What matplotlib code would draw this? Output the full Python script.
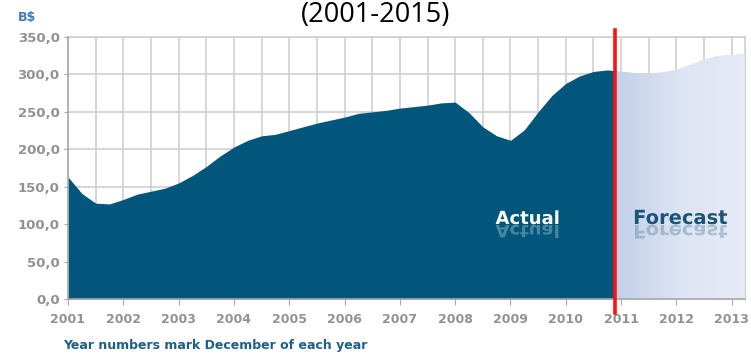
import matplotlib.pyplot as plt
import numpy as np
from matplotlib.colors import LinearSegmentedColormap
from matplotlib.font_manager import FontProperties
from matplotlib.patches import PathPatch
from matplotlib.textpath import TextPath
from matplotlib.transforms import Affine2D

# market size, B$ (quarterly points)
actual_t = [2001.0, 2001.25, 2001.5, 2001.75, 2002.0, 2002.25, 2002.5, 2002.75,
            2003.0, 2003.25, 2003.5, 2003.75, 2004.0, 2004.25, 2004.5, 2004.75,
            2005.0, 2005.25, 2005.5, 2005.75, 2006.0, 2006.25, 2006.5, 2006.75,
            2007.0, 2007.25, 2007.5, 2007.75, 2008.0, 2008.25, 2008.5, 2008.75,
            2009.0, 2009.25, 2009.5, 2009.75, 2010.0, 2010.25, 2010.5, 2010.75,
            2010.89]
actual_v = [163, 141, 128, 127, 133, 140, 144, 148,
            155, 165, 177, 191, 203, 212, 218, 220,
            225, 230, 235, 239, 243, 248, 250, 252,
            255, 257, 259, 262, 263, 249, 230, 218,
            212, 226, 250, 272, 288, 298, 304, 306,
            305]

forecast_t = [2010.89, 2011.0, 2011.25, 2011.5, 2011.75, 2012.0, 2012.25,
              2012.5, 2012.75, 2013.0, 2013.25]
forecast_v = [305, 303.5, 302, 301, 303, 306, 313, 320, 325, 326, 328]

split_year = 2010.89
year_ticks = list(range(2001, 2014))
value_ticks = [0, 50, 100, 150, 200, 250, 300, 350]
value_labels = ["0,0", "50,0", "100,0", "150,0", "200,0", "250,0", "300,0", "350,0"]

dark_blue = "#02567b"
grid_col = "#cfcfcf"
tick_col = "#929292"

fig = plt.figure(figsize=(7.51, 3.54), dpi=100)
ax = fig.add_axes([68 / 751, 1 - 299 / 354, (745 - 68) / 751, (299 - 37) / 354])

ax.set_xlim(2001, 2013.24)
ax.set_ylim(0, 350)

# gridlines: every half year, every 50
ax.set_xticks(year_ticks)
ax.set_xticks([y + 0.5 for y in year_ticks], minor=True)
ax.set_yticks(value_ticks)
ax.set_yticklabels(value_labels)
ax.grid(True, which="both", axis="x", color=grid_col, lw=1.2, zorder=0)
ax.grid(True, which="major", axis="y", color=grid_col, lw=1.2, zorder=0)
ax.set_axisbelow(True)

ax.fill_between(actual_t, 0, actual_v, color=dark_blue, lw=0, zorder=2)
fc = ax.fill_between(forecast_t, 0, forecast_v, color="#cdd8ee", lw=0, zorder=2)

# soft left-to-right gradient on the forecast area
grad = LinearSegmentedColormap.from_list("fc", ["#c2cfea", "#dde4f3", "#e6ebf6"])
img = ax.imshow(np.linspace(0, 1, 256).reshape(1, -1), cmap=grad, aspect="auto",
                extent=[forecast_t[0], forecast_t[-1], 0, 350], zorder=3)
img.set_clip_path(fc.get_paths()[0], transform=ax.transData)
ax.set_xlim(2001, 2013.24)
ax.set_ylim(0, 350)

ax.axvline(split_year, ymin=-0.055, ymax=1.027, color="#ff1010", lw=2.6,
           clip_on=False, zorder=6)

for side in ["top", "right"]:
    ax.spines[side].set_color(grid_col)
    ax.spines[side].set_linewidth(1.2)
for side in ["left", "bottom"]:
    ax.spines[side].set_color("#a8a8a8")
    ax.spines[side].set_linewidth(1.2)
    ax.spines[side].set_zorder(5)

ax.tick_params(axis="x", which="major", length=4, color="#a8a8a8", pad=6,
               labelsize=9, labelcolor=tick_col)
ax.tick_params(axis="x", which="minor", length=0)
ax.tick_params(axis="y", length=3, color="#a8a8a8", pad=3,
               labelsize=9.5, labelcolor=tick_col)
for lab in ax.get_xticklabels() + ax.get_yticklabels():
    lab.set_fontweight("bold")
    lab.set_family("DejaVu Sans")

fig.text(0.5, 1 - 15 / 354, "(2001-2015)", ha="center", va="center",
         fontsize=19.5, family="Open Sans", color="black")
fig.text(18 / 751, 1 - 18 / 354, "B$", ha="left", va="center", fontsize=9,
         fontweight="bold", color="#3a7fc0")
fig.text(63 / 751, 1 - 345 / 354, "Year numbers mark December of each year",
         ha="left", va="center", fontsize=9, fontweight="bold", color="#1d5f8c")

# labels with a faded mirror image underneath
bold = FontProperties(family="DejaVu Sans", weight="bold")
H = 354
for label, cx, col, size in [("Actual", 527, "white", 18), ("Forecast", 681, "#1a5578", 19.5)]:
    base = H - 224
    tp = TextPath((0, 0), label, size=size, prop=bold)
    ext = tp.get_extents()
    x0 = cx - ext.width / 2 - ext.x0
    fig.add_artist(PathPatch(tp, transform=Affine2D().translate(x0, base),
                             facecolor=col, edgecolor="none", zorder=8))
    fig.add_artist(PathPatch(tp, transform=Affine2D().scale(1, -0.95).translate(x0, base - 1),
                             facecolor=col, edgecolor="none", alpha=0.28, zorder=8))

fig.savefig("out.png", dpi=100)
